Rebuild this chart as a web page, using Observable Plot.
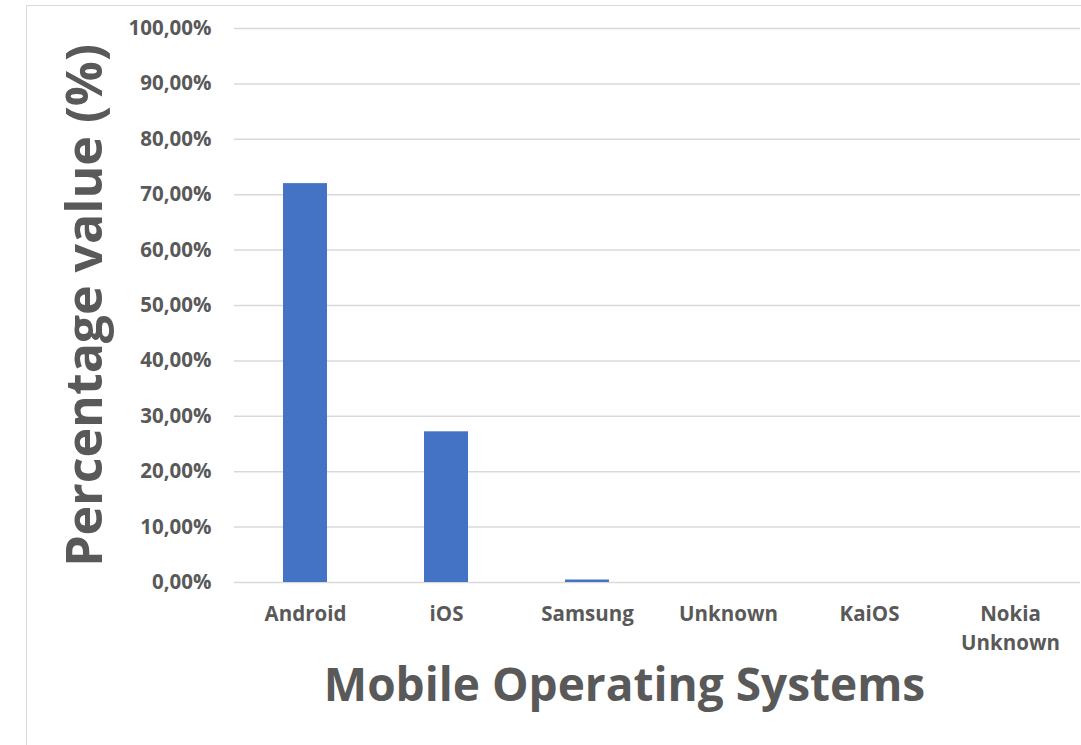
<!DOCTYPE html>
<html>
<head>
<meta charset="utf-8">
<script src="https://cdn.jsdelivr.net/npm/d3@7"></script>
<script src="https://cdn.jsdelivr.net/npm/@observablehq/plot@0.6"></script>
<style>
  html, body { margin: 0; padding: 0; background: #fff; }
  #wrap { position: relative; width: 1081px; height: 745px; overflow: hidden; }
  #border { position: absolute; left: 26px; top: 5px; width: 1100px; height: 800px; border: 1.5px solid #d9d9d9; box-sizing: border-box; }
  #chart { position: absolute; left: 0; top: 0; }
</style>
</head>
<body>
<div id="wrap"><div id="border"></div><div id="chart"></div></div>
<script>
const categories = ["Android", "iOS", "Samsung", "Unknown", "KaiOS", "Nokia Unknown"];
const values = [72.0, 27.2, 0.45, 0, 0, 0];
const yTicks = [0, 10, 20, 30, 40, 50, 60, 70, 80, 90, 100];
const yTitle = "Percentage value (%)";
const xTitle = "Mobile Operating Systems";

const data = categories.map((c, i) => ({category: c, value: values[i]}));
const font = "Open Sans, sans-serif";
const textColor = "#595959";

const chart = Plot.plot({
  width: 1081,
  height: 745,
  marginLeft: 234,
  marginRight: 1,
  marginTop: 28,
  marginBottom: 163,
  style: {fontFamily: font, color: textColor, background: "transparent"},
  x: {domain: categories, paddingInner: 0.688, paddingOuter: 0.344},
  y: {domain: [0, 100]},
  marks: [
    Plot.gridY(yTicks, {stroke: "#d9d9d9", strokeOpacity: 1, strokeWidth: 1.5}),
    Plot.barY(data, {x: "category", y: "value", fill: "#4472C4"}),
    Plot.axisY({
      ticks: yTicks, tickSize: 0, tickPadding: 23, label: null,
      tickFormat: d => d.toFixed(2).replace(".", ",") + "%",
      fontSize: 20.5, fontWeight: "bold", fill: textColor
    }),
    Plot.axisX({
      tickSize: 0, tickPadding: 17, label: null,
      tickFormat: d => d.replace(" ", "\n"),
      fontSize: 20.5, fontWeight: "bold", fill: textColor, lineHeight: 1.45
    }),
    Plot.text([yTitle], {
      frameAnchor: "left", rotate: -90, dx: -149,
      fontSize: 50, fontWeight: "bold", fill: textColor, textAnchor: "middle"
    }),
    Plot.text([xTitle], {
      frameAnchor: "bottom", dx: -33, dy: 118,
      fontSize: 46, fontWeight: "bold", fill: textColor
    })
  ]
});
document.getElementById("chart").appendChild(chart);
</script>
</body>
</html>
